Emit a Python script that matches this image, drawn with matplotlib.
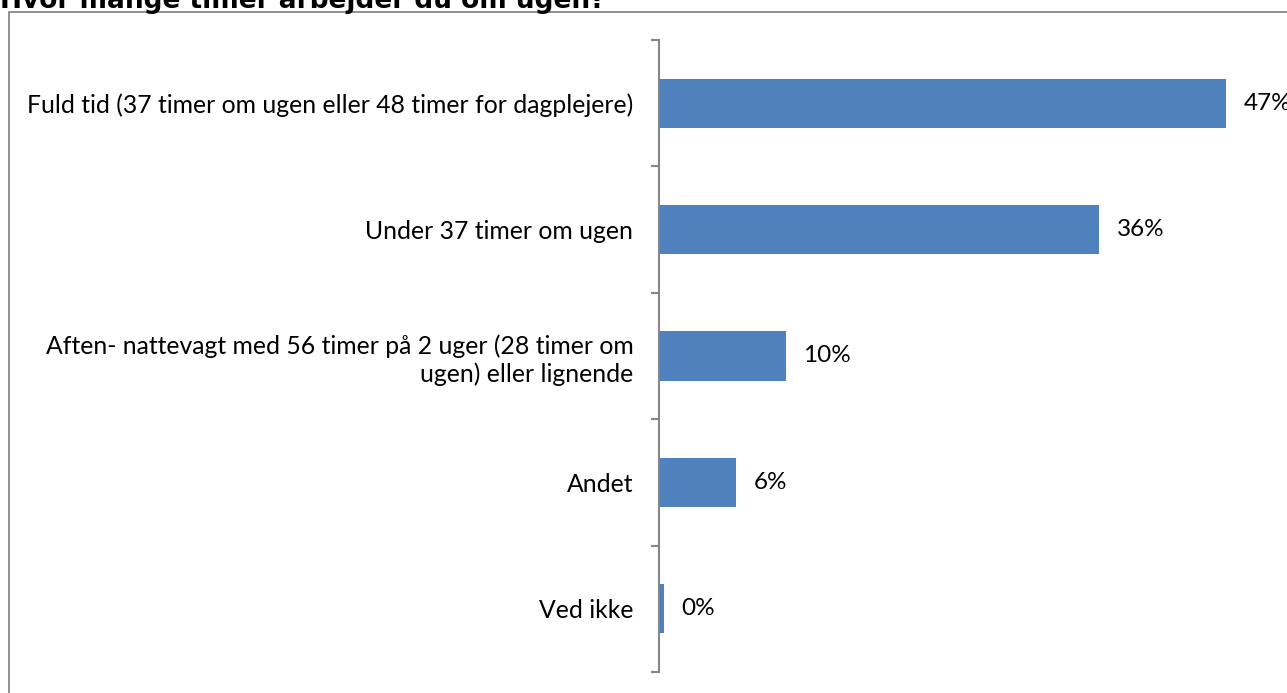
import matplotlib.pyplot as plt
from matplotlib.patches import Rectangle

categories = [
    "Fuld tid (37 timer om ugen eller 48 timer for dagplejere)",
    "Under 37 timer om ugen",
    "Aften- nattevagt med 56 timer på 2 uger (28 timer om\nugen) eller lignende",
    "Andet",
    "Ved ikke",
]
values = [47.0, 36.5, 10.5, 6.4, 0.4]
value_labels = ["47%", "36%", "10%", "6%", "0%"]

W, H = 1287, 693
fig = plt.figure(figsize=(W / 100, H / 100), dpi=100)

# outer chart border (runs off the right and bottom edges)
fig.patches.append(Rectangle((8.5 / W, -0.2), 1.2, (H - 11.5) / H + 0.2,
                             transform=fig.transFigure, fill=False,
                             edgecolor="#888888", linewidth=1.3, clip_on=False))

# title sits partly above the top edge, as in the source
fig.text(0.0, (H - 8) / H, "Hvor mange timer arbejder du om ugen?",
         fontsize=19, fontweight="bold", family="DejaVu Sans",
         ha="left", va="baseline")

left, right = 659 / W, 1.0
bottom, top = (H - 672) / H, (H - 40) / H
ax = fig.add_axes([left, bottom, right - left, top - bottom])

px_per_pct = 567 / 47.0
ax.set_xlim(0, (W - 659) / px_per_pct)
ax.set_ylim(4.5, -0.5)

ypos = list(range(len(categories)))
ax.barh(ypos, values, height=0.39, color="#4F81BD", zorder=2)

for y, v, lab in zip(ypos, values, value_labels):
    ax.annotate(lab, (v, y), xytext=(12.5, 0), textcoords="offset points",
                ha="left", va="center", fontsize=17.5, family="Lato", color="#000000")

for s in ["top", "right", "bottom"]:
    ax.spines[s].set_visible(False)
ax.spines["left"].set_color("#868686")
ax.spines["left"].set_linewidth(1.5)

ax.set_xticks([])
ax.set_yticks([i - 0.5 for i in range(len(categories) + 1)])
ax.set_yticklabels([])
ax.tick_params(axis="y", which="major", length=5.5, width=1.5, color="#868686")
ax.set_yticks(ypos, minor=True)
ax.set_yticklabels(categories, minor=True, fontsize=17.8, family="Lato")
ax.tick_params(axis="y", which="minor", length=0, pad=18.5)

fig.savefig("out.png", dpi=100)
